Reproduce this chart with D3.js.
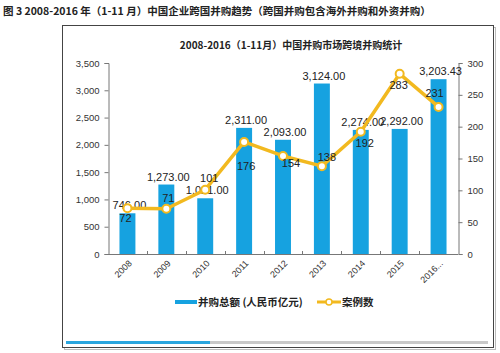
<!DOCTYPE html>
<html>
<head>
<meta charset="utf-8">
<script src="https://cdn.jsdelivr.net/npm/d3@7"></script>
<style>
  body { margin: 0; background: #fff; }
  svg { display: block; font-family: "Liberation Sans", Arial, "Noto Sans CJK SC", sans-serif; }
</style>
</head>
<body>
<div id="chart"></div>
<script>
const years = ["2008", "2009", "2010", "2011", "2012", "2013", "2014", "2015", "2016..."];
const amounts = [746, 1273, 1021, 2311, 2093, 3124, 2274, 2292, 3203.43];
const cases = [72, 71, 101, 176, 154, 138, 192, 283, 231];
const leftTicks = [0, 500, 1000, 1500, 2000, 2500, 3000, 3500];
const rightTicks = [0, 50, 100, 150, 200, 250, 300];

// label nudges for the case counts (dx, dy from point)
const caseLabelShift = [[-2, 10], [2, -11], [4, -12], [2, 24], [8, 7], [5, -9], [4, 11], [-1, 11], [-4, -14]];

const colors = {
    bar: "#16a2e0",
    line: "#f2b91f",
    text: "#333",
    axis: "#777",
};

const width = 500, height = 353;
const margins = { top: 63, right: 42, bottom: 99, left: 108 };

const svg = d3.select("#chart")
    .append("svg")
    .attr("width", width)
    .attr("height", height);

// page caption
svg.append("text")
    .attr("x", 3)
    .attr("y", 15)
    .attr("font-size", 10.5)
    .attr("font-weight", 700)
    .attr("fill", "#222")
    .attr("font-family", "'Noto Sans CJK SC', sans-serif")
    .text("图 3 2008-2016 年（1-11 月）中国企业跨国并购趋势（跨国并购包含海外并购和外资并购）");

// frame + shadow
svg.append("rect")
    .attr("x", 64.5).attr("y", 27.5)
    .attr("width", 431).attr("height", 322)
    .attr("fill", "none").attr("stroke", "#bbb");
svg.append("rect")
    .attr("x", 62.5).attr("y", 25.5)
    .attr("width", 431).attr("height", 322)
    .attr("fill", "#fff").attr("stroke", "#444");

// scrollbar at bottom
svg.append("rect")
    .attr("x", 66).attr("y", 341).attr("width", 422).attr("height", 3)
    .attr("fill", "#c9c9c9");
svg.append("rect")
    .attr("x", 66).attr("y", 341).attr("width", 144).attr("height", 3)
    .attr("fill", "#2aa6df");

// chart title
svg.append("text")
    .attr("x", 291)
    .attr("y", 49)
    .attr("text-anchor", "middle")
    .attr("font-size", 10)
    .attr("font-weight", 700)
    .attr("fill", "#222")
    .attr("font-family", "'Noto Sans CJK SC', sans-serif")
    .text("2008-2016（1-11月）中国并购市场跨境并购统计");

const x = d3.scaleBand()
    .domain(years)
    .range([margins.left, width - margins.right])
    .paddingInner(0.59)
    .paddingOuter(0.295);

const y = d3.scaleLinear()
    .domain([0, 3500])
    .range([height - margins.bottom, margins.top]);

const y2 = d3.scaleLinear()
    .domain([0, 300])
    .range([height - margins.bottom, margins.top]);

const x0 = margins.left, x1 = width - margins.right, yb = height - margins.bottom;

// left axis
const gy = svg.append("g")
    .attr("transform", `translate(${x0 + 0.5},0)`)
    .call(d3.axisLeft(y).tickValues(leftTicks).tickFormat(d3.format(",")).tickSize(4).tickPadding(5));
gy.select(".domain").attr("stroke", colors.axis);
gy.selectAll(".tick line").attr("stroke", colors.axis);
gy.selectAll("text").attr("font-size", 9.5).attr("fill", colors.text);

// right axis
const gy2 = svg.append("g")
    .attr("transform", `translate(${x1 + 0.5},0)`)
    .call(d3.axisRight(y2).tickValues(rightTicks).tickSize(4).tickPadding(5));
gy2.select(".domain").attr("stroke", colors.axis);
gy2.selectAll(".tick line").attr("stroke", colors.axis);
gy2.selectAll("text").attr("font-size", 9.5).attr("fill", colors.text);

// bars
svg.selectAll("rect.bar")
    .data(years)
    .join("rect")
    .attr("class", "bar")
    .attr("x", d => x(d))
    .attr("width", x.bandwidth())
    .attr("y", (d, i) => y(amounts[i]))
    .attr("height", (d, i) => yb - y(amounts[i]))
    .attr("fill", colors.bar);

// bottom axis line + ticks at band boundaries
svg.append("line")
    .attr("x1", x0).attr("x2", x1)
    .attr("y1", yb + 0.5).attr("y2", yb + 0.5)
    .attr("stroke", colors.axis);
const step = x.step();
svg.selectAll("line.xtick")
    .data(years.slice(1))
    .join("line")
    .attr("class", "xtick")
    .attr("x1", d => Math.round(x(d) - step * 0.295) + 0.5)
    .attr("x2", d => Math.round(x(d) - step * 0.295) + 0.5)
    .attr("y1", yb - 3).attr("y2", yb)
    .attr("stroke", colors.axis);

svg.selectAll("text.xlab")
    .data(years)
    .join("text")
    .attr("class", "xlab")
    .attr("transform", d => `translate(${x(d) + x.bandwidth() / 2 + 5},${yb + 10}) rotate(-45)`)
    .attr("text-anchor", "end")
    .attr("font-size", 9)
    .attr("fill", colors.text)
    .text(d => d);

// bar value labels
svg.selectAll("text.blab")
    .data(years)
    .join("text")
    .attr("class", "blab")
    .attr("x", d => x(d) + x.bandwidth() / 2 + 2)
    .attr("y", (d, i) => y(amounts[i]) - 4)
    .attr("text-anchor", "middle")
    .attr("font-size", 11)
    .attr("fill", "#222")
    .text((d, i) => d3.format(",.2f")(amounts[i]));

// line
const cx = d => x(d) + x.bandwidth() / 2;
const line = d3.line()
    .x(d => cx(d))
    .y((d, i) => y2(cases[i]));

svg.append("path")
    .datum(years)
    .attr("d", line)
    .attr("fill", "none")
    .attr("stroke", colors.line)
    .attr("stroke-width", 3.5)
    .attr("stroke-linejoin", "round");

svg.selectAll("circle.pt")
    .data(years)
    .join("circle")
    .attr("class", "pt")
    .attr("cx", d => cx(d))
    .attr("cy", (d, i) => y2(cases[i]))
    .attr("r", 4)
    .attr("fill", "#fff")
    .attr("stroke", colors.line)
    .attr("stroke-width", 2);

svg.selectAll("text.clab")
    .data(years)
    .join("text")
    .attr("class", "clab")
    .attr("x", (d, i) => cx(d) + caseLabelShift[i][0])
    .attr("y", (d, i) => y2(cases[i]) + caseLabelShift[i][1])
    .attr("dy", "0.35em")
    .attr("text-anchor", "middle")
    .attr("font-size", 11)
    .attr("fill", "#222")
    .text((d, i) => cases[i]);

// legend
const lg = svg.append("g").attr("font-family", "'Noto Sans CJK SC', sans-serif");
lg.append("rect")
    .attr("x", 175).attr("y", 300).attr("width", 22).attr("height", 4)
    .attr("fill", colors.bar);
lg.append("text")
    .attr("x", 198).attr("y", 306)
    .attr("font-size", 10.5).attr("font-weight", 700).attr("fill", "#222")
    .text("并购总额 (人民币亿元)");
lg.append("line")
    .attr("x1", 317).attr("x2", 341).attr("y1", 302).attr("y2", 302)
    .attr("stroke", colors.line).attr("stroke-width", 3);
lg.append("circle")
    .attr("cx", 329).attr("cy", 302).attr("r", 3)
    .attr("fill", "#fff").attr("stroke", colors.line).attr("stroke-width", 1.5);
lg.append("text")
    .attr("x", 342).attr("y", 306)
    .attr("font-size", 10.5).attr("font-weight", 700).attr("fill", "#222")
    .text("案例数");
</script>
</body>
</html>
